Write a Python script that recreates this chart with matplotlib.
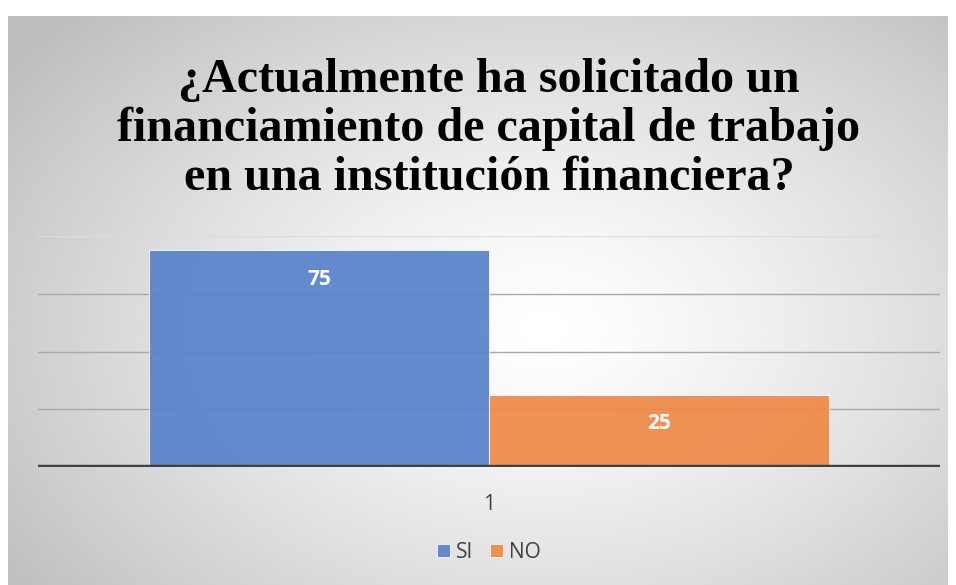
import numpy as np
import matplotlib.pyplot as plt

# data
categories = ["1"]
series_names = ["SI", "NO"]
series_values = [75, 25]
colors = ["#5A83CC", "#F08A48"]

title = "¿Actualmente ha solicitado un\nfinanciamiento de capital de trabajo\nen una institución financiera?"

W, H = 956, 585
fig = plt.figure(figsize=(W / 100, H / 100), dpi=100)

# radial grey-to-white background of the chart box
bg = fig.add_axes([8 / W, 0, (W - 16) / W, (H - 16) / H], zorder=0)
yy, xx = np.mgrid[0:1:300j, 0:1:480j]
r = np.sqrt(((xx - 0.57) / 0.75) ** 2 + ((yy - 0.55) / 0.85) ** 2)
shade = np.clip(1 - 0.28 * r ** 1.3, 0.74, 1.0)
bg.imshow(shade, cmap="gray", vmin=0, vmax=1, aspect="auto", extent=[0, 1, 0, 1])
bg.set_axis_off()

# plot area
left, right = 38 / W, 940 / W
bottom, top = 1 - 467 / H, 1 - 236 / H
ax = fig.add_axes([left, bottom, right - left, top - bottom], zorder=1)
ax.patch.set_alpha(0)

width = 0.34
offsets = [-width / 2, width / 2]
for name, val, col, off in zip(series_names, series_values, colors, offsets):
    ax.bar(0 + off, val, width=width, color=col, alpha=0.93, label=name,
           edgecolor="#ffffff", linewidth=0.6, zorder=3)
    ax.text(0 + off, val - 10, str(val), ha="center", va="center",
            color="white", fontsize=15, fontweight="bold", family="Open Sans", zorder=4)

ax.set_xlim(-0.451, 0.451)
ax.set_ylim(0, 80)
ax.set_yticks([20, 40, 60, 80])
for y in [20, 40, 60]:
    ax.axhline(y, color="#a8a8a8", linewidth=1.0, zorder=2)
ax.axhline(80, color="#dcdcdc", linewidth=1.0, zorder=2)
ax.axhline(0, color="#404040", linewidth=3.2, zorder=5)
ax.set_yticklabels([])
ax.tick_params(left=False, bottom=False)
ax.set_xticks([0])
ax.set_xticklabels(categories, fontsize=15, color="#404040", family="Open Sans")
ax.tick_params(axis="x", pad=16)
for s in ax.spines.values():
    s.set_visible(False)

fig.text(489 / W, 1 - 129 / H, title, ha="center", va="center", fontsize=34.7,
         fontweight="bold", family="Liberation Serif", linespacing=1.15, color="#000000")

leg = ax.legend(loc="center", bbox_to_anchor=(0.5, (1 - 552 / H - bottom) / (top - bottom)),
                ncol=2, frameon=False, handlelength=0.6, handleheight=0.6,
                handletextpad=0.3, columnspacing=0.8, prop={"family": "Open Sans", "size": 15})
for t in leg.get_texts():
    t.set_color("#404040")

fig.savefig("out.png", dpi=100)
